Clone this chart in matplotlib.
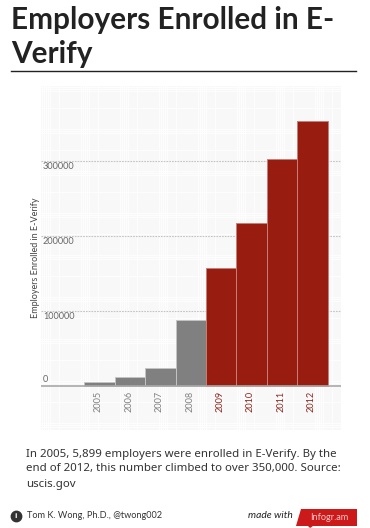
import numpy as np
import matplotlib
matplotlib.use('Agg')
import matplotlib.pyplot as plt
from matplotlib.patches import Polygon, Rectangle

W, H = 370, 528

years = ['2005', '2006', '2007', '2008', '2009', '2010', '2011', '2012']
employers = [5899, 11600, 24400, 88000, 157000, 217000, 302000, 353000]
bar_colors = ['#808080', '#808080', '#808080', '#808080', '#981c10', '#981c10', '#981c10', '#981c10']
edge_colors = ['#c4c4c4', '#c4c4c4', '#c4c4c4', '#c4c4c4', '#c47f78', '#c47f78', '#c47f78', '#c47f78']
label_colors = ['#808080', '#808080', '#808080', '#808080', '#8a2a20', '#8a2a20', '#8a2a20', '#8a2a20']
y_ticks = [0, 100000, 200000, 300000]

title_lines = ['Employers Enrolled in E-', 'Verify']
note_lines = ['In 2005, 5,899 employers were enrolled in E-Verify. By the',
              'end of 2012, this number climbed to over 350,000. Source:',
              'uscis.gov']

NARROW = ['Lato', 'Liberation Sans', 'DejaVu Sans']
plt.rcParams['font.family'] = ['Liberation Sans', 'DejaVu Sans']

fig = plt.figure(figsize=(W / 100, H / 100), dpi=100, facecolor='white')

# page layer for title, note, footer, in pixel coords
page = fig.add_axes([0, 0, 1, 1])
page.set_xlim(0, W)
page.set_ylim(H, 0)
page.axis('off')

page.text(11, 20, title_lines[0], fontsize=21.4, fontweight='bold', color='#222222', va='center', family=NARROW)
page.text(11, 54, title_lines[1], fontsize=21.4, fontweight='bold', color='#222222', va='center', family=NARROW)
page.plot([11, 356], [71, 71], color='#222222', lw=1.0)

for i, line in enumerate(note_lines):
    page.text(26, 454 + i * 15, line, fontsize=8.25, color='#333333', va='center', family='Noto Sans')

page.plot([15.5], [516], 'o', ms=7.5, color='#333333')
page.text(15.5, 516, 'i', fontsize=6, color='white', fontweight='bold', ha='center', va='center')
page.text(27, 515.5, 'Tom K. Wong, Ph.D., @twong002', fontsize=6.6, color='#333333', va='center', family=NARROW)
page.text(293, 516, 'made with', fontsize=7.4, color='#222222', style='italic', ha='right', va='center', family=NARROW)
page.add_patch(Polygon([[301, 509], [357, 509], [357, 526], [313, 526], [310, 528], [308, 526], [296, 526]],
                       color='#cc1a1a', lw=0))
page.text(329.5, 517, 'Infogr.am', fontsize=6.6, color='#f3c8c8', ha='center', va='center', family=NARROW)

# mesh behind the chart, one pixel lines on a pale fill
page.add_patch(Rectangle((41, 86), 300, 344, color='#f8f8f8', lw=0, zorder=0))
for start in np.arange(41, 341, 39):
    for off in [0, 2, 4, 6, 8, 17]:
        page.plot([start + off + 0.5] * 2, [86, 430], color='white', lw=0.6, zorder=1)
for start in np.arange(86, 430, 42):
    for off in [0, 2, 4, 21]:
        page.plot([41, 341], [start + off + 0.5] * 2, color='white', lw=0.6, zorder=1)

# chart
ax = fig.add_axes([41 / W, 1 - 430 / H, 300 / W, 344 / H])
ax.patch.set_visible(False)
ax.set_xlim(-1.93, 7.94)
ax.set_ylim(-58667, 400000)
for s in ax.spines.values():
    s.set_visible(False)

x = np.arange(len(years))
ax.bar(x, employers, width=1, color=bar_colors, edgecolor=edge_colors, linewidth=0.7, zorder=3)

for v in y_ticks[1:]:
    ax.axhline(v, color='#c4c4c4', lw=0.8, ls=(0, (1.5, 1)), zorder=2)
ax.axhline(0, color='#a8a8a8', lw=1.2, zorder=4)

ax.set_xticks([])
ax.set_yticks([])
for v in y_ticks:
    ax.text(-1.87, v + 9300 if v == 0 else v - 8000, str(v), fontsize=6.6, color='#666666', va='center', ha='left',
            family=NARROW, zorder=5)
for i, y in enumerate(years):
    ax.text(i - 0.04, -7000, y, rotation=90, fontsize=6.6, color=label_colors[i], ha='center', va='top',
            family=NARROW, zorder=5)

page.text(35, 258, 'Employers Enrolled in E-Verify', rotation=90, fontsize=6.5, color='#444444', ha='center',
          va='center', family=NARROW)

fig.savefig('out.png', dpi=100)
